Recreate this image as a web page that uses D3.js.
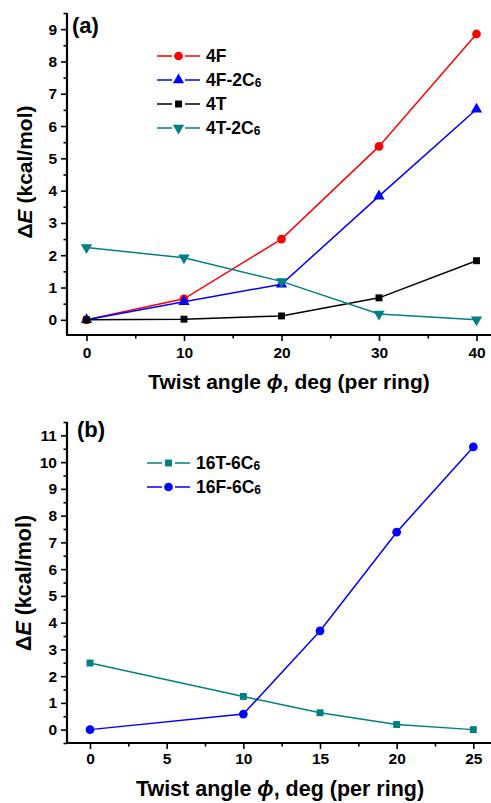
<!DOCTYPE html>
<html>
<head>
<meta charset="utf-8">
<script src="https://cdn.jsdelivr.net/npm/d3@7"></script>
<style>
  html, body { margin: 0; padding: 0; background: #fff; }
  svg { display: block; font-family: "Liberation Sans", Arial, sans-serif; font-weight: bold; }
</style>
</head>
<body>
<svg id="chart" width="491" height="803"></svg>
<script>
// Panel (a): twist angle vs relative energy
const anglesA = [0, 10, 20, 30, 40];
const e4F     = [0, 0.65, 2.5, 5.37, 8.85];
const e4F2C6  = [0, 0.56, 1.1, 3.83, 6.52];
const e4T     = [0, 0.02, 0.12, 0.68, 1.83];
const e4T2C6  = [2.24, 1.92, 1.19, 0.18, 0.0];
const ticksXA = [0, 10, 20, 30, 40];
const ticksYA = [0, 1, 2, 3, 4, 5, 6, 7, 8, 9];

// Panel (b)
const anglesB   = [0, 10, 15, 20, 25];
const e16T6C6   = [2.49, 1.24, 0.63, 0.19, 0.0];
const e16F6C6   = [0, 0.58, 3.69, 7.38, 10.57];
const ticksXB   = [0, 5, 10, 15, 20, 25];
const ticksYB   = [0, 1, 2, 3, 4, 5, 6, 7, 8, 9, 10, 11];

const RED = "#ff0000", BLUE = "#0000ff", BLACK = "#000000", TEAL = "#008080";

const svg = d3.select("#chart");

function symbolPath(kind, size) {
  if (kind === "circle") return d3.symbol(d3.symbolCircle, size)();
  if (kind === "square") return d3.symbol(d3.symbolSquare, size)();
  return d3.symbol(d3.symbolTriangle, size)();
}

function drawPanel(cfg) {
  const g = svg.append("g");
  const x = d3.scaleLinear().domain(cfg.xDomain).range([cfg.left, cfg.right]);
  const y = d3.scaleLinear().domain(cfg.yDomain).range([cfg.bottom, cfg.top]);

  // major ticks labeled, minor ticks in between
  const minorX = d3.range(cfg.xTicks[0], cfg.xDomain[1] + 0.001, cfg.xMinor)
    .filter(v => !cfg.xTicks.some(t => Math.abs(t - v) < 1e-9));
  const minorY = d3.range(Math.ceil(cfg.yDomain[0] * 2) / 2, cfg.yDomain[1] + 0.001, 0.5)
    .filter(v => !cfg.yTicks.some(t => Math.abs(t - v) < 1e-9));

  const xAxis = g.append("g").attr("transform", `translate(0,${cfg.bottom})`)
    .call(d3.axisBottom(x).tickValues(cfg.xTicks).tickSize(6).tickPadding(cfg.xPad).tickFormat(d3.format("d")));
  g.append("g").attr("transform", `translate(0,${cfg.bottom})`)
    .call(d3.axisBottom(x).tickValues(minorX).tickSize(3.5).tickFormat(""))
    .select(".domain").remove();
  const yAxis = g.append("g").attr("transform", `translate(${cfg.left},0)`)
    .call(d3.axisLeft(y).tickValues(cfg.yTicks).tickSize(6).tickPadding(4).tickFormat(d3.format("d")));
  g.append("g").attr("transform", `translate(${cfg.left},0)`)
    .call(d3.axisLeft(y).tickValues(minorY).tickSize(3.5).tickFormat(""))
    .select(".domain").remove();

  // plain L-shaped frame without end caps
  xAxis.select(".domain").attr("d", `M${cfg.left - 1},0H${cfg.right + 20}`)
    .attr("stroke", "#000").attr("stroke-width", 2.2);
  yAxis.select(".domain").attr("d", `M0,${cfg.bottom}V${cfg.top}`)
    .attr("stroke", "#000").attr("stroke-width", 2.2);
  g.selectAll(".tick line").attr("stroke", "#000").attr("stroke-width", 1.6);
  g.selectAll(".tick text").attr("font-size", 15.5).attr("font-weight", "bold")
    .attr("font-family", "'Liberation Sans', Arial, sans-serif").attr("fill", "#000");

  // series
  cfg.series.forEach(s => {
    const pts = cfg.xs.map((v, i) => [x(v), y(s.values[i])]);
    g.append("path").attr("d", d3.line()(pts)).attr("fill", "none")
      .attr("stroke", s.color).attr("stroke-width", 1.5);
    g.selectAll(null).data(pts).join("path")
      .attr("d", symbolPath(s.marker, s.size))
      .attr("transform", d => `translate(${d[0]},${d[1]})${s.marker === "down" ? " rotate(180)" : ""}`)
      .attr("fill", s.color);
  });

  // legend
  cfg.series.forEach((s, i) => {
    const ly = cfg.legendY + i * cfg.legendStep;
    const lx = cfg.legendX;
    g.append("line").attr("x1", lx).attr("x2", lx + 15).attr("y1", ly).attr("y2", ly)
      .attr("stroke", s.color).attr("stroke-width", 1.5);
    g.append("line").attr("x1", lx + 28).attr("x2", lx + 43).attr("y1", ly).attr("y2", ly)
      .attr("stroke", s.color).attr("stroke-width", 1.5);
    g.append("path").attr("d", symbolPath(s.marker, s.size))
      .attr("transform", `translate(${lx + 21.5},${ly})${s.marker === "down" ? " rotate(180)" : ""}`)
      .attr("fill", s.color);
    const t = g.append("text").attr("x", lx + 49).attr("y", ly + 6)
      .attr("font-size", 17.5).attr("fill", "#000");
    t.append("tspan").text(s.label);
    if (s.sub) t.append("tspan").attr("font-size", 12).attr("dy", 1).text(s.sub);
  });

  // panel tag
  g.append("text").attr("x", cfg.tagX).attr("y", cfg.tagY).attr("font-size", 22).text(cfg.tag);

  // axis titles
  const xt = g.append("text").attr("x", cfg.xTitleX).attr("y", cfg.xTitleY)
    .attr("text-anchor", "middle").attr("font-size", cfg.titleSize);
  xt.append("tspan").text("Twist angle ");
  xt.append("tspan").attr("font-style", "italic").text("ϕ");
  xt.append("tspan").text(", deg (per ring)");

  const yt = g.append("text")
    .attr("transform", `translate(${cfg.yTitleX},${cfg.yTitleY}) rotate(-90)`)
    .attr("text-anchor", "middle").attr("font-size", cfg.titleSize);
  yt.append("tspan").text("Δ");
  yt.append("tspan").attr("font-style", "italic").text("E");
  yt.append("tspan").text(" (kcal/mol)");
}

drawPanel({
  left: 67, right: 496, top: 13, bottom: 335,
  xDomain: [-2, 42], yDomain: [-0.47, 9.5], xMinor: 5, xPad: 6,
  xTicks: ticksXA, yTicks: ticksYA, xs: anglesA,
  series: [
    { label: "4F", values: e4F, color: RED, marker: "circle", size: 60 },
    { label: "4F-2C", sub: "6", values: e4F2C6, color: BLUE, marker: "up", size: 55 },
    { label: "4T", values: e4T, color: BLACK, marker: "square", size: 48 },
    { label: "4T-2C", sub: "6", values: e4T2C6, color: TEAL, marker: "down", size: 55 }
  ],
  legendX: 157, legendY: 56, legendStep: 24,
  tag: "(a)", tagX: 72, tagY: 33,
  titleSize: 21,
  xTitleX: 289, xTitleY: 389, yTitleX: 32, yTitleY: 172
});

drawPanel({
  left: 67, right: 504, top: 422, bottom: 743,
  xDomain: [-1.5, 27], yDomain: [-0.5, 11.5], xMinor: 2.5, xPad: 4,
  xTicks: ticksXB, yTicks: ticksYB, xs: anglesB,
  series: [
    { label: "16T-6C", sub: "6", values: e16T6C6, color: TEAL, marker: "square", size: 48 },
    { label: "16F-6C", sub: "6", values: e16F6C6, color: BLUE, marker: "circle", size: 60 }
  ],
  legendX: 147, legendY: 463, legendStep: 24,
  tag: "(b)", tagX: 77, tagY: 437,
  titleSize: 21.5,
  xTitleX: 280, xTitleY: 796, yTitleX: 31, yTitleY: 583
});
</script>
</body>
</html>
